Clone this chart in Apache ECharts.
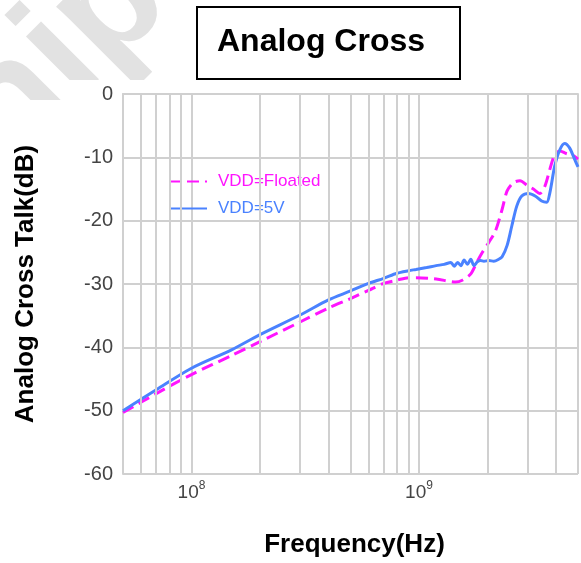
<!DOCTYPE html>
<html>
<head>
<meta charset="utf-8">
<script src="https://cdn.jsdelivr.net/npm/echarts@6/dist/echarts.min.js"></script>
<style>
html,body{margin:0;padding:0;background:#fff;}
#chart{width:581px;height:563px;}
</style>
</head>
<body>
<div id="chart"></div>
<script>
// ---- data ----
const floatedFreq = [5e7, 7e7, 1e8, 1.5e8, 2e8, 3e8, 4e8, 5e8, 6e8, 7e8, 8e8, 9e8, 9.7e8, 1.19e9, 1.45e9, 1.55e9, 1.69e9, 1.8e9, 1.9e9, 2.03e9, 2.17e9, 2.32e9, 2.44e9, 2.6e9, 2.78e9, 2.98e9, 3.18e9, 3.4e9, 3.58e9, 3.76e9, 3.95e9, 4.16e9, 4.44e9, 4.75e9, 5e9];
const floatedDb   = [-50.3, -47.3, -44.3, -41.3, -39.1, -36.0, -33.8, -32.3, -31.0, -29.9, -29.4, -29.0, -29.0, -29.2, -29.7, -29.4, -28.4, -26.5, -25.0, -23.4, -21.6, -18.2, -15.3, -14.0, -13.7, -14.4, -15.0, -15.7, -14.5, -11.9, -9.6, -9.0, -9.4, -9.7, -10.3];

const v5Freq = [5e7, 7e7, 1e8, 1.5e8, 2e8, 3e8, 4e8, 5e8, 6e8, 7e8, 8e8, 9e8, 9.7e8, 1.08e9, 1.19e9, 1.29e9, 1.381e9, 1.428e9, 1.478e9, 1.528e9, 1.579e9, 1.633e9, 1.689e9, 1.745e9, 1.805e9, 1.866e9, 1.929e9, 2.028e9, 2.132e9, 2.241e9, 2.32e9, 2.44e9, 2.56e9, 2.69e9, 2.83e9, 3.03e9, 3.24e9, 3.46e9, 3.64e9, 3.76e9, 3.95e9, 4.16e9, 4.37e9, 4.59e9, 4.83e9, 5e9];
const v5Db   = [-50.0, -46.7, -43.3, -40.4, -38.0, -34.9, -32.5, -31.1, -29.9, -29.1, -28.3, -27.9, -27.7, -27.4, -27.1, -26.9, -26.6, -27.2, -26.6, -27.1, -26.2, -26.9, -26.1, -27.1, -26.5, -26.3, -26.4, -26.3, -26.4, -26.1, -25.7, -23.9, -20.8, -17.7, -16.1, -15.7, -16.1, -16.9, -17.1, -15.6, -11.4, -8.8, -7.8, -8.5, -10.3, -11.5];

const seriesNames = ['VDD=Floated', 'VDD=5V'];
const yTicks = [-60, -50, -40, -30, -20, -10, 0];
const minorGridFreqs = [6e7, 7e7, 8e7, 9e7, 2e8, 3e8, 4e8, 5e8, 6e8, 7e8, 8e8, 9e8, 2e9, 3e9, 4e9];
const xMin = 5e7, xMax = 5e9;

// ---- chart ----
const FONT = 'Liberation Sans, Arial, sans-serif';
const GRID = '#d0d0d0';
const MAGENTA = '#ff14ff';
const BLUE = '#4a82ff';

const zip = (xs, ys) => xs.map((x, i) => [x, ys[i]]);

const chart = echarts.init(document.getElementById('chart'), null, {renderer: 'canvas'});
chart.setOption({
  animation: false,
  backgroundColor: '#ffffff',
  graphic: [
    {type: 'text', z: -3, x: -100, y: 218, rotation: Math.PI / 4,
     style: {text: 'Chip', fontSize: 155, fontWeight: 'bold', fontFamily: FONT, fill: '#e2e2e2', align: 'left', verticalAlign: 'middle'}},
    {type: 'rect', z: -2, shape: {x: 62, y: 80, width: 600, height: 600}, style: {fill: '#ffffff'}},
    {type: 'rect', z: -2, shape: {x: 0, y: 100, width: 100, height: 600}, style: {fill: '#ffffff'}}
  ],
  title: {
    text: 'Analog Cross',
    left: 197, top: 7,
    padding: [17, 35, 19, 20],
    borderWidth: 2, borderColor: '#000',
    backgroundColor: '#fff',
    textStyle: {fontSize: 32, fontWeight: 'bold', color: '#000', fontFamily: FONT, lineHeight: 36}
  },
  legend: {
    orient: 'vertical', left: 163, top: 168,
    itemWidth: 38, itemHeight: 14, itemGap: 10,
    itemStyle: {opacity: 0},
    data: [
      {name: seriesNames[0], textStyle: {color: MAGENTA}},
      {name: seriesNames[1], textStyle: {color: BLUE}}
    ],
    textStyle: {fontSize: 17, fontFamily: FONT, padding: [0, 0, 0, 6]}
  },
  grid: {left: 123, top: 94, width: 460.5, height: 383, containLabel: false},
  xAxis: {
    type: 'log', logBase: 10, min: xMin, max: xMax,
    name: 'Frequency(Hz)', nameLocation: 'middle', nameGap: 58,
    nameTextStyle: {fontSize: 26, fontWeight: 'bold', color: '#000', fontFamily: FONT, padding: [0, 0, 0, 8]},
    axisLine: {show: true, lineStyle: {color: GRID, width: 2}},
    axisTick: {show: false},
    splitLine: {show: true, lineStyle: {color: GRID, width: 2}},
    axisLabel: {
      margin: 6,
      formatter: function (v) {
        const e = Math.log10(v);
        if (Math.abs(e - Math.round(e)) < 1e-6) return '{b|10}{s|' + Math.round(e) + '}';
        return '';
      },
      rich: {
        b: {fontSize: 19, color: '#444', fontFamily: FONT, lineHeight: 22, verticalAlign: 'bottom'},
        s: {fontSize: 12, color: '#444', fontFamily: FONT, lineHeight: 22, verticalAlign: 'top'}
      }
    }
  },
  yAxis: {
    type: 'value', min: yTicks[0], max: yTicks[yTicks.length - 1], interval: 10,
    name: 'Analog Cross Talk(dB)', nameLocation: 'middle', nameGap: 84, nameRotate: 90,
    nameTextStyle: {fontSize: 26, fontWeight: 'bold', color: '#000', fontFamily: FONT},
    axisLine: {show: true, lineStyle: {color: GRID, width: 2}},
    axisTick: {show: false},
    splitLine: {show: true, lineStyle: {color: GRID, width: 2}},
    axisLabel: {fontSize: 20, color: '#444', fontFamily: FONT, margin: 10}
  },
  series: [
    {
      name: 'minor-grid', type: 'line', data: [], z: 1, silent: true,
      markLine: {
        silent: true, symbol: ['none', 'none'], label: {show: false},
        lineStyle: {color: GRID, width: 2, type: 'solid'},
        emphasis: {disabled: true},
        data: minorGridFreqs.map(v => ({xAxis: v}))
      }
    },
    {
      name: seriesNames[0], type: 'line', z: 3, symbol: 'none', smooth: 0.3,
      data: zip(floatedFreq, floatedDb),
      itemStyle: {color: MAGENTA},
      lineStyle: {color: MAGENTA, width: 3, type: [12, 6]}
    },
    {
      name: seriesNames[1], type: 'line', z: 4, symbol: 'none', smooth: 0.3,
      data: zip(v5Freq, v5Db),
      itemStyle: {color: BLUE},
      lineStyle: {color: BLUE, width: 3, type: 'solid'}
    }
  ]
});
</script>
</body>
</html>
